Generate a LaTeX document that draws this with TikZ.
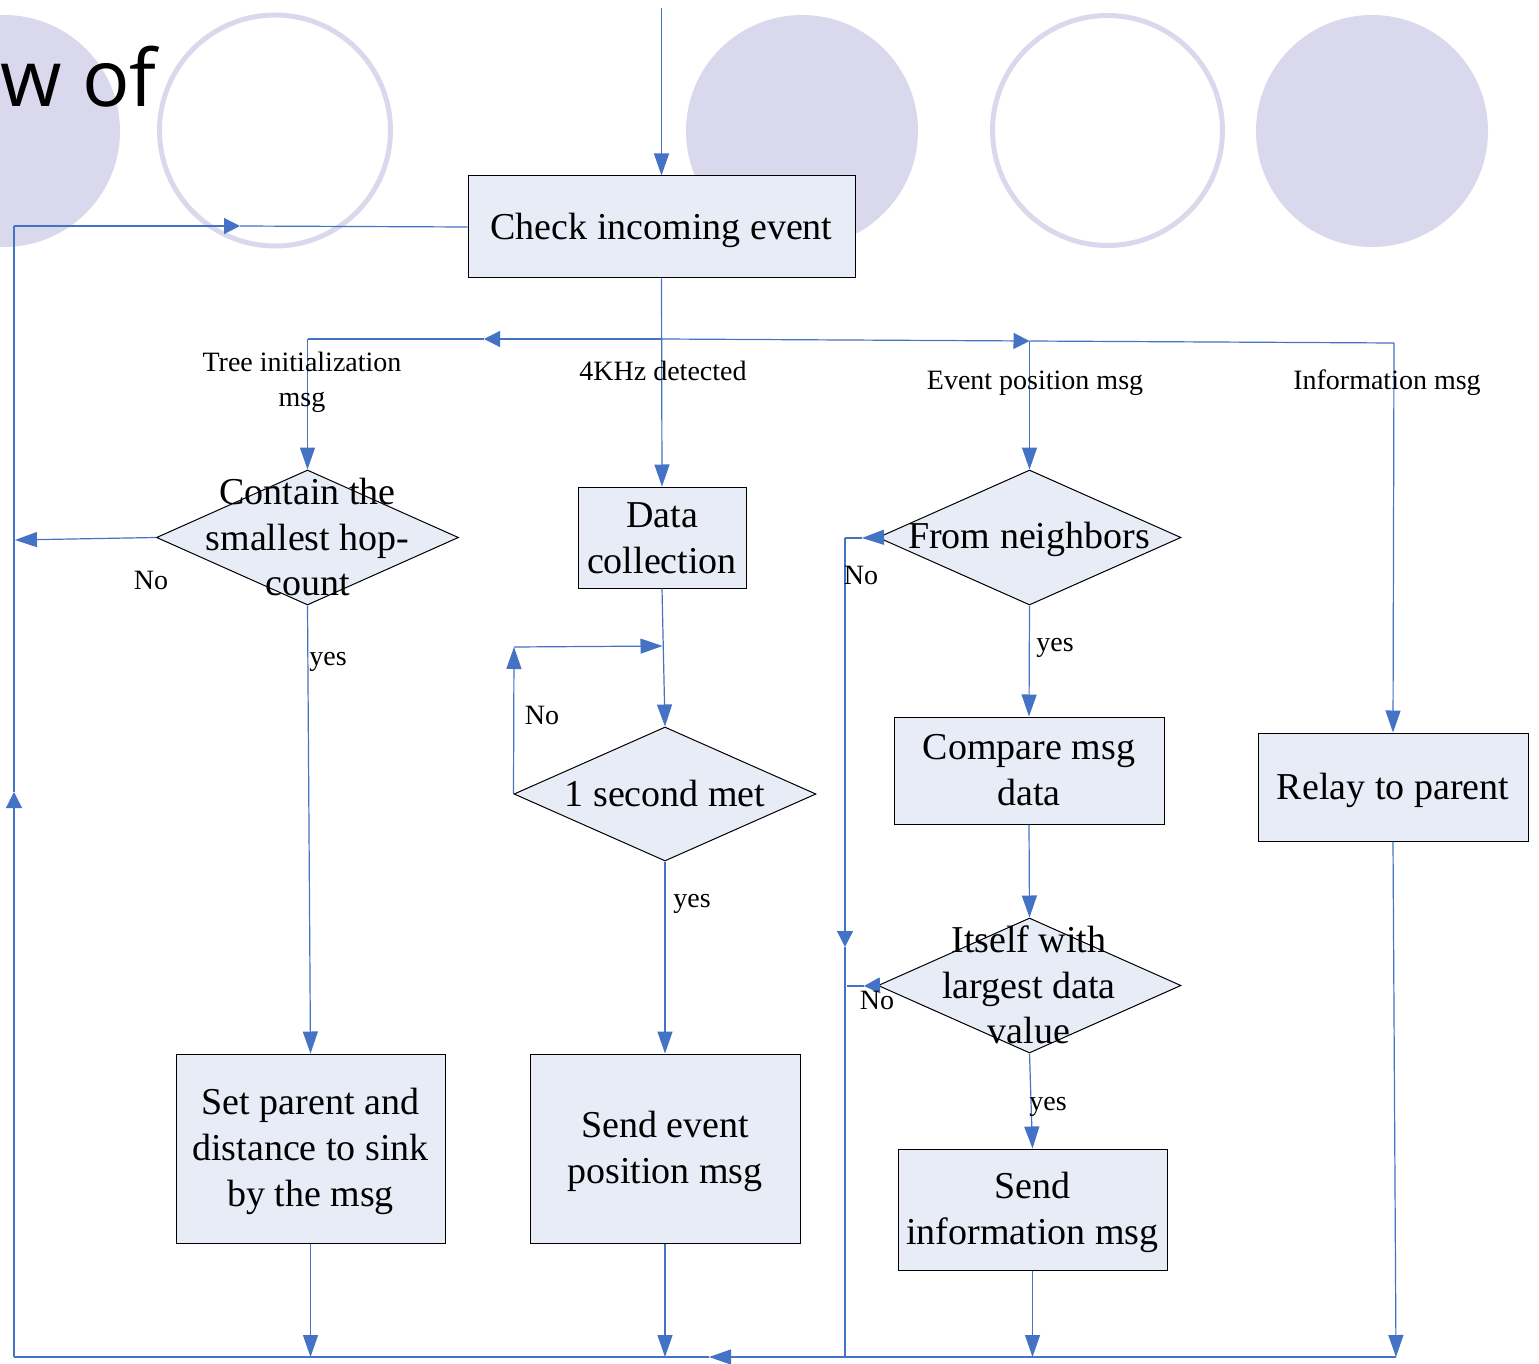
\documentclass[tikz,border=0pt]{standalone}
\usepackage{fontspec}
\setmainfont{Liberation Serif}
\newfontfamily\titlefont{Open Sans}
\usetikzlibrary{shapes.geometric,arrows.meta}
\definecolor{linkblue}{HTML}{4472C4}
\definecolor{boxfill}{HTML}{E7ECF7}
\definecolor{deco}{HTML}{DAD8ED}

\begin{document}
\begin{tikzpicture}[x=1pt,y=-1pt,
  conn/.style={draw=linkblue, line width=1.2pt},
  arr/.style={conn, -{Triangle[length=22pt,width=15pt]}},
  midarr/.style={conn, -{Triangle[length=16pt,width=16pt]}},
  proc/.style={rectangle, draw=black, line width=1pt, fill=boxfill, inner sep=0},
  ptext/.style={inner sep=0, align=center, font=\fontsize{38}{46}\selectfont},
  dia/.style={diamond, draw=black, line width=1pt, fill=boxfill, inner sep=0},
  diatext/.style={inner sep=0, align=center, font=\fontsize{38}{45.5}\selectfont},
  lbl/.style={inner sep=0, align=center, font=\fontsize{28}{35}\selectfont},
]
\useasboundingbox (0,0) rectangle (1539,1364);

% decorative circles of the slide background
\fill[deco] (4,131) circle[radius=116pt];
\draw[deco, line width=5pt] (275,130.5) circle[radius=115.5pt];
\fill[deco] (802,131) circle[radius=116pt];
\draw[deco, line width=5pt] (1107.5,130.5) circle[radius=115pt];
\fill[deco] (1372,131) circle[radius=116pt];

% slide title fragment
\node[anchor=base west, inner sep=0, font=\titlefont\fontsize{79}{88}\selectfont]
  (title) at (0,107) {w of};

% process boxes and decisions
\node[proc, minimum width=387pt, minimum height=102pt] (check) at (661.5,227) {};
\node[ptext] (checkt) at ([yshift=-3pt]check.center) {Check incoming event};

\node[dia, minimum width=302pt, minimum height=135pt] (d1) at (307.5,537.5) {};
\node[diatext] (d1t) at (307.5,537) {Contain the\\smallest hop-\\count};

\node[proc, minimum width=168pt, minimum height=101pt] (dc) at (662,537.5) {};
\node[ptext] (dct) at ([yshift=-1pt]dc.center) {Data\\collection};

\node[dia, minimum width=302pt, minimum height=134pt] (d2) at (665,794) {};
\node[diatext] (d2t) at (665,793) {1 second met};

\node[dia, minimum width=303pt, minimum height=135pt] (d3) at (1029.5,537.5) {};
\node[diatext] (d3t) at (1029,539) {From neighbors};

\node[proc, minimum width=270pt, minimum height=107pt] (cmp) at (1029,770.5) {};
\node[ptext] (cmpt) at (cmp.center) {Compare msg\\data};

\node[dia, minimum width=303pt, minimum height=135pt] (d4) at (1029.5,985.5) {};
\node[diatext] (d4t) at (1029,985) {Itself with\\largest data\\value};

\node[proc, minimum width=270pt, minimum height=108pt] (relay) at (1393,787) {};
\node[ptext] (relayt) at ([yshift=-3pt]relay.center) {Relay to parent};

\node[proc, minimum width=269pt, minimum height=189pt] (setp) at (310.5,1148.5) {};
\node[ptext] (setpt) at ([yshift=-3pt]setp.center) {Set parent and\\distance to sink\\by the msg};
\node[proc, minimum width=270pt, minimum height=189pt] (sendev) at (665,1148.5) {};
\node[ptext] (sendevt) at ([yshift=-3pt]sendev.center) {Send event\\position msg};
\node[proc, minimum width=269pt, minimum height=121pt] (sendinfo) at (1032.5,1209.5) {};
\node[ptext] (sendinfot) at ([yshift=-3pt]sendinfo.center) {Send\\information msg};

% junction points
\coordinate (src) at (661.5,8);
\coordinate (split) at (661.5,339);
\coordinate (lhead) at (484,339);
\coordinate (lcorner) at (307.5,339);
\coordinate (rjoin) at (1029.5,341);
\coordinate (rcorner) at (1394,343);
\coordinate (busr) at (1396,1357);
\coordinate (bushead) at (709,1357);
\coordinate (busl) at (14,1357);
\coordinate (uphead) at (14,792);
\coordinate (upcorner) at (14,226);
\coordinate (rethead) at (240,226);
\coordinate (d1no) at (15,540);
\coordinate (looptop) at (514,647);
\coordinate (loopjoin) at (662.5,646);
\coordinate (n3tip) at (862,538);
\coordinate (n3corner) at (845,538);
\coordinate (n3mid) at (845,947);
\coordinate (n3foot) at (845,1357);
\coordinate (n4tip) at (864,986);
\coordinate (n4end) at (847,986);

% entry and branching
\draw[arr] (src) -- (check.north);
\draw[arr] (check.south) -- (dc.north);
\draw[midarr] (split) -- (lhead);
\draw[conn] (lhead) -- (lcorner);
\draw[arr] (lcorner) -- (d1.north);
\draw[midarr] (split) -- (rjoin);
\draw[conn] (rjoin) -- (rcorner);
\draw[arr] (rjoin) -- (d3.north);
\draw[arr] (rcorner) -- (relay.north);

% tree initialization branch
\draw[arr] (d1.west) -- (d1no);
\draw[arr] (d1.south) -- (setp.north);
\draw[arr] (setp.south) -- (setp.south |- busl);

% 4KHz branch
\draw[arr] (dc.south) -- (d2.north);
\draw[arr] (d2.west) -- (looptop);
\draw[arr] (looptop) -- (loopjoin);
\draw[arr] (d2.south) -- (sendev.north);
\draw[arr] (sendev.south) -- (sendev.south |- busl);

% event position branch
\draw[arr] (d3.west) -- (n3tip);
\draw[conn] (n3tip) -- (n3corner);
\draw[midarr] (n3corner) -- (n3mid);
\draw[conn] (n3mid) -- (n3foot);
\draw[arr] (d3.south) -- (cmp.north);
\draw[arr] (cmp.south) -- (d4.north);
\draw[midarr] (d4.west) -- (n4tip);
\draw[conn] (n4tip) -- (n4end);
\draw[arr] (d4.south) -- (sendinfo.north);
\draw[arr] (sendinfo.south) -- (sendinfo.south |- busl);

% information branch
\draw[arr] (relay.south) -- (busr);

% return path back to the event check
\draw[arr] (busr) -- (bushead);
\draw[conn] (bushead) -- (busl);
\draw[midarr] (busl) -- (uphead);
\draw[conn] (uphead) -- (upcorner);
\draw[midarr] (upcorner) -- (rethead);
\draw[conn] (rethead) -- (check.west);

% branch and decision labels
\node[lbl] (ltree) at (302,382) {Tree initialization\\msg};
\node[lbl] (lkhz) at (663,371) {4KHz detected};
\node[lbl] (levt) at (1035,383) {Event position msg};
\node[lbl] (linfo) at (1387,383) {Information msg};
\node[lbl] (no1) at (151,580) {No};
\node[lbl] (yes1) at (328,662) {yes};
\node[lbl] (no2) at (542,715) {No};
\node[lbl] (yes2) at (692,904) {yes};
\node[lbl] (no3) at (861,575) {No};
\node[lbl] (yes3) at (1055,648) {yes};
\node[lbl] (no4) at (877,1000) {No};
\node[lbl] (yes4) at (1048,1107) {yes};
\end{tikzpicture}
\end{document}
